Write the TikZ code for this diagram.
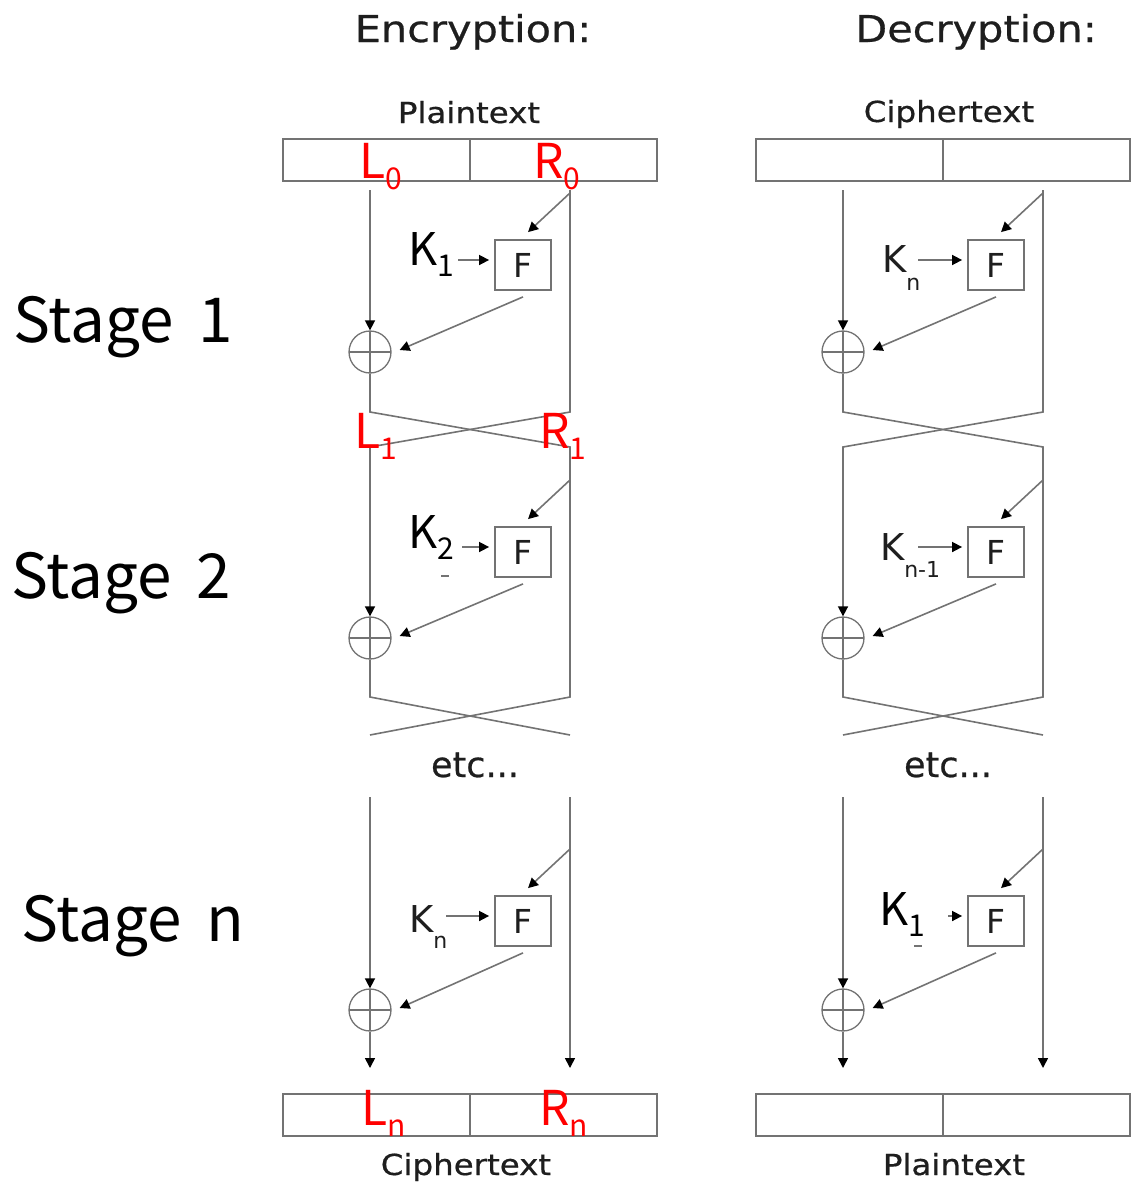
\documentclass[tikz,border=0pt]{standalone}
\usepackage{fontspec}
\setmainfont{DejaVu Sans}
\newfontfamily\ovfont{Noto Sans CJK KR}
\newfontfamily\widefont[FakeStretch=1.12,FakeBold=0.6]{DejaVu Sans}
\newfontfamily\heavyfont[FakeBold=0.6]{DejaVu Sans}
\usetikzlibrary{arrows.meta,calc}

\definecolor{linegray}{RGB}{115,115,115}
\definecolor{inkgray}{RGB}{30,30,30}
\definecolor{labred}{RGB}{255,0,0}

% subscripted labels: overlay style (large) and original style (small)
\newcommand\ovsub[4]{{\fontsize{#1}{#1}\selectfont #2}\raisebox{-11pt}{\fontsize{#3}{#3}\selectfont #4}}
\newcommand\origkey[2]{{\fontsize{37}{37}\selectfont K}\raisebox{#1}{\fontsize{22}{22}\selectfont #2}}

% one Feistel round: F box, XOR, tap arrow, key arrow, F-to-XOR arrow
% #1 name, #2 x of left wire, #3 y of F, #4 y of XOR, #5 x where key arrow starts
\newcommand\feistelround[5]{%
  \node[fbox] (#1F) at (#2+153,#3) {F};
  \node[xorc] (#1X) at (#2,#4) {};
  \coordinate (#1tap) at (#2+200,#3-72);
  \coordinate (#1key) at (#5,#3-5);
  \draw[arr] (#1tap) -- ([xshift=5pt,yshift=7pt]#1F.north);
  \draw[arr] (#1key) -- ($(#1F.west |- #1key)+(-5,0)$);
  \draw[arr] ([yshift=-6pt]#1F.south) -- ([xshift=8pt,yshift=2pt]#1X.east);
}

\begin{document}
\begin{tikzpicture}[x=1pt,y={(0pt,-1pt)},
  wire/.style={draw=linegray,line width=1.6pt},
  arr/.style={wire,-{Triangle[length=10pt,width=10pt,color=black]}},
  half/.style={draw=linegray,line width=1.8pt,minimum width=187pt,minimum height=42pt,inner sep=0pt,outer sep=0pt},
  fbox/.style={draw=linegray,line width=1.8pt,minimum width=56pt,minimum height=50pt,inner sep=0pt,
    font=\fontsize{33}{33}\selectfont,text=inkgray},
  xorc/.style={circle,draw=linegray,line width=1.3pt,minimum size=42pt,inner sep=0pt,
    path picture={\draw[linegray,line width=1.3pt]
      (path picture bounding box.north) -- (path picture bounding box.south)
      (path picture bounding box.west) -- (path picture bounding box.east);}},
  lab/.style={anchor=base west,inner sep=0pt,outer sep=0pt},
  ovlab/.style={lab,font=\ovfont,text=black},
  redlab/.style={lab,font=\ovfont,text=labred},
  origlab/.style={lab,text=inkgray},
  title/.style={anchor=base,inner sep=0pt,font=\widefont\fontsize{37}{37}\selectfont,text=inkgray},
  caption/.style={anchor=base,inner sep=0pt,font=\widefont\fontsize{29}{29}\selectfont,text=inkgray},
  etcl/.style={anchor=base,inner sep=0pt,font=\heavyfont\fontsize{35}{35}\selectfont,text=inkgray},
  stagel/.style={anchor=base west,inner sep=0pt,font=\ovfont\fontsize{62}{62}\selectfont,text=black},
  smear/.style={draw=linegray,line width=1.5pt}
]
\useasboundingbox (0,0) rectangle (1139,1189);

% ---------- headings ----------
\node[title] (enct) at (473,42) {Encryption:};
\node[title] (dect) at (976,42) {Decryption:};
\node[caption] (encin) at (469,123) {Plaintext};
\node[caption] (decin) at (949,122) {Ciphertext};
\node[caption] (encout) at (466,1175) {Ciphertext};
\node[caption] (decout) at (954,1175) {Plaintext};

\node[stagel] (st1) at (13,342) {Stage\hspace{25pt}1};
\node[stagel] (st2) at (11,598) {Stage\hspace{25pt}2};
\node[stagel] (stn) at (21,941) {Stage\hspace{25pt}n};

% ---------- encryption ----------
\node[half] (eTL) at (376.5,160) {};
\node[half] (eTR) at (563.5,160) {};
\node[half] (eBL) at (376.5,1115) {};
\node[half] (eBR) at (563.5,1115) {};

\feistelround{ea}{370}{265}{352}{458}
\feistelround{eb}{370}{552}{638}{462}
\feistelround{en}{370}{921}{1010}{446}

\coordinate (eaL) at (370,190);
\coordinate (eaR) at (570,190);
\draw[arr] (eaL) -- (eaX);
\draw[wire] (eaX) -- (370,412) -- (570,447) -- (570,697) -- (370,735);
\draw[arr] (eaR) -- (570,412) -- (370,447) -- (ebX);
\draw[wire] (ebX) -- (370,697) -- (570,735);
\node[etcl] (eetc) at (475,777) {etc...};
\coordinate (enL) at (370,797);
\coordinate (enR) at (570,797);
\coordinate (enLo) at (370,1068);
\coordinate (enRo) at (570,1068);
\draw[arr] (enL) -- (enX);
\draw[arr] (enX) -- (enLo);
\draw[arr] (enR) -- (enRo);

\node[ovlab] (ek1) at (408,265) {\ovsub{45}{K}{30}{1}};
\node[ovlab] (ek2) at (408,548) {\ovsub{45}{K}{30}{2}};
\draw[smear] (441,576) -- (449,576);
\node[origlab] (ekn) at (409,932) {\origkey{-16pt}{n}};

\node[redlab] (l0) at (359,178) {\ovsub{48}{L}{30}{0}};
\node[redlab] (r0) at (533,178) {\ovsub{48}{R}{30}{0}};
\node[redlab] (l1) at (354,448) {\ovsub{48}{L}{30}{1}};
\node[redlab] (r1) at (539,448) {\ovsub{48}{R}{30}{1}};
\node[redlab] (ln) at (361,1125) {\ovsub{48}{L}{30}{n}};
\node[redlab] (rn) at (539,1125) {\ovsub{48}{R}{30}{n}};

% ---------- decryption ----------
\node[half] (dTL) at (849.5,160) {};
\node[half] (dTR) at (1036.5,160) {};
\node[half] (dBL) at (849.5,1115) {};
\node[half] (dBR) at (1036.5,1115) {};

\feistelround{da}{843}{265}{352}{918}
\feistelround{db}{843}{552}{638}{918}
\feistelround{dn}{843}{921}{1010}{948}

\coordinate (daL) at (843,190);
\coordinate (daR) at (1043,190);
\draw[arr] (daL) -- (daX);
\draw[wire] (daX) -- (843,412) -- (1043,447) -- (1043,697) -- (843,735);
\draw[arr] (daR) -- (1043,412) -- (843,447) -- (dbX);
\draw[wire] (dbX) -- (843,697) -- (1043,735);
\node[etcl] (detc) at (948,777) {etc...};
\coordinate (dnL) at (843,797);
\coordinate (dnR) at (1043,797);
\coordinate (dnLo) at (843,1068);
\coordinate (dnRo) at (1043,1068);
\draw[arr] (dnL) -- (dnX);
\draw[arr] (dnX) -- (dnLo);
\draw[arr] (dnR) -- (dnRo);

\node[origlab] (dkn) at (882,272) {\origkey{-18pt}{n}};
\node[origlab] (dkm) at (880,560) {\origkey{-17pt}{n-1}};
\node[ovlab] (dk1) at (879,925) {\ovsub{45}{K}{30}{1}};
\draw[smear] (914,946) -- (922,946);

\end{tikzpicture}
\end{document}
